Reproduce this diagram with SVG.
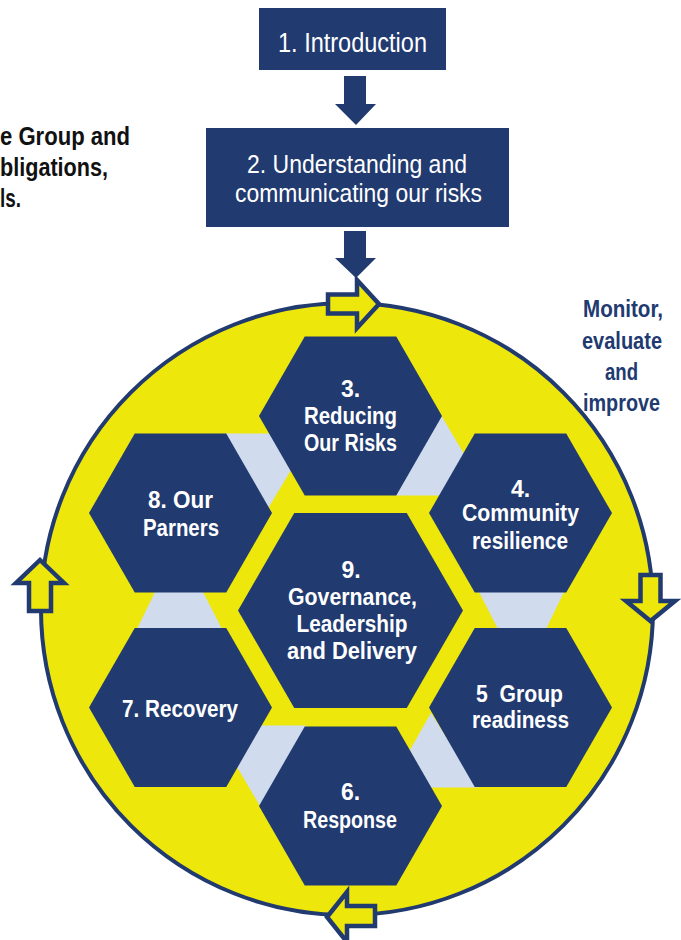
<svg xmlns="http://www.w3.org/2000/svg" width="681" height="940" viewBox="0 0 681 940">
<style>
.box{fill:#213A70}
.hex{fill:#213A70}
.band{fill:#D0DCEE}
.bt{font-family:"Liberation Sans",Arial,sans-serif;fill:#FFFFFF;text-anchor:middle}
.ht{font-family:"Liberation Sans",Arial,sans-serif;font-weight:bold;font-size:23px;fill:#FFFFFF;text-anchor:middle}
.mt{font-family:"Liberation Sans",Arial,sans-serif;font-weight:bold;font-size:23px;fill:#213A70;text-anchor:middle}
.lt{font-family:"Liberation Sans",Arial,sans-serif;font-weight:bold;font-size:25px;fill:#111111}
.down{fill:#213A70}
.carrow{fill:#EDE70C;stroke:#213A70;stroke-width:4.5;stroke-linejoin:miter}
</style>
<rect width="681" height="940" fill="#FFFFFF"/>

<g id="side-text">
<text class="lt" x="0" y="145" textLength="130" lengthAdjust="spacingAndGlyphs">e Group and</text>
<text class="lt" x="0" y="176" textLength="108" lengthAdjust="spacingAndGlyphs">bligations,</text>
<text class="lt" x="0" y="207" textLength="21" lengthAdjust="spacingAndGlyphs">ls.</text>
</g>

<g id="node-1">
<rect class="box" x="259" y="8" width="187" height="62"/>
<text class="bt" x="352.5" y="52" font-size="27" textLength="149" lengthAdjust="spacingAndGlyphs">1. Introduction</text>
</g>

<g id="node-2">
<rect class="box" x="206" y="128" width="303" height="99"/>
<text class="bt" x="357" y="173" font-size="25" textLength="220" lengthAdjust="spacingAndGlyphs">2. Understanding and</text>
<text class="bt" x="358.5" y="202" font-size="25" textLength="247" lengthAdjust="spacingAndGlyphs">communicating our risks</text>
</g>

<g id="cycle">
<circle cx="347" cy="609" r="306" fill="#EDE70C" stroke="#213A70" stroke-width="4"/>
</g>

<g id="bands">
<polygon class="band" points="223,433.5 273,433.5 291,470 268,508.5"/>
<polygon class="band" points="441,415 464,454 442,495.5 395,495.5"/>
<polygon class="band" points="478,787.5 428,787.5 410,750 431,713"/>
<polygon class="band" points="260,806 237,767 259,725.5 306,725.5"/>
<polygon class="band" points="155,592 203,592 222,629 137,629"/>
<polygon class="band" points="546,629 498,629 479,592 564,592"/>
</g>

<g id="node-3">
<polygon class="hex" points="259,416 304.75,336.5 396.25,336.5 442,416 396.25,495.5 304.75,495.5"/>
<text class="ht" x="350.5" y="397">3.</text>
<text class="ht" x="350.5" y="424" textLength="93" lengthAdjust="spacingAndGlyphs">Reducing</text>
<text class="ht" x="350.5" y="451" textLength="93" lengthAdjust="spacingAndGlyphs">Our Risks</text>
</g>

<g id="node-4">
<polygon class="hex" points="429,513 474.75,433.5 566.25,433.5 612,513 566.25,592.5 474.75,592.5"/>
<text class="ht" x="520.5" y="497">4.</text>
<text class="ht" x="520.5" y="521" textLength="117" lengthAdjust="spacingAndGlyphs">Community</text>
<text class="ht" x="520" y="549" textLength="96" lengthAdjust="spacingAndGlyphs">resilience</text>
</g>

<g id="node-5">
<polygon class="hex" points="429,707.5 474.75,628 566.25,628 612,707.5 566.25,787 474.75,787"/>
<text class="ht" x="519.5" y="702" textLength="87" lengthAdjust="spacingAndGlyphs" xml:space="preserve">5  Group</text>
<text class="ht" x="520.5" y="728" textLength="97" lengthAdjust="spacingAndGlyphs">readiness</text>
</g>

<g id="node-6">
<polygon class="hex" points="259,806 304.75,726.5 396.25,726.5 442,806 396.25,885.5 304.75,885.5"/>
<text class="ht" x="350.5" y="800">6.</text>
<text class="ht" x="350" y="828" textLength="94" lengthAdjust="spacingAndGlyphs">Response</text>
</g>

<g id="node-7">
<polygon class="hex" points="89,707.5 134.75,628 226.25,628 272,707.5 226.25,787 134.75,787"/>
<text class="ht" x="180" y="717" textLength="116" lengthAdjust="spacingAndGlyphs">7. Recovery</text>
</g>

<g id="node-8">
<polygon class="hex" points="89,513 134.75,433.5 226.25,433.5 272,513 226.25,592.5 134.75,592.5"/>
<text class="ht" x="180.5" y="508" textLength="65" lengthAdjust="spacingAndGlyphs">8. Our</text>
<text class="ht" x="181" y="536" textLength="76" lengthAdjust="spacingAndGlyphs">Parners</text>
</g>

<g id="node-9">
<polygon class="hex" points="238,610.5 294.25,513 406.75,513 463,610.5 406.75,708 294.25,708"/>
<text class="ht" x="351" y="578">9.</text>
<text class="ht" x="352.5" y="605" textLength="129" lengthAdjust="spacingAndGlyphs">Governance,</text>
<text class="ht" x="352" y="632" textLength="111" lengthAdjust="spacingAndGlyphs">Leadership</text>
<text class="ht" x="352" y="659" textLength="130" lengthAdjust="spacingAndGlyphs">and Delivery</text>
</g>

<g id="cycle-label">
<text class="mt" x="623" y="317" textLength="80" lengthAdjust="spacingAndGlyphs">Monitor,</text>
<text class="mt" x="622" y="349" textLength="80" lengthAdjust="spacingAndGlyphs">evaluate</text>
<text class="mt" x="621.5" y="380" textLength="33" lengthAdjust="spacingAndGlyphs">and</text>
<text class="mt" x="621.5" y="411" textLength="77" lengthAdjust="spacingAndGlyphs">improve</text>
</g>

<g id="connectors">
<polygon class="down" points="344,76 366,76 366,104 376,104 356,125 335,104 344,104"/>
<polygon class="down" points="344,231 366,231 366,258 376,258 356,278 335,258 344,258"/>
<path class="carrow" d="M328,294.5 H357 V280 L379,304 L357,328 V313.5 H328 Z"/>
<path class="carrow" d="M640.5,575 H660.5 V601 H675 L650.5,621 L626,601 H640.5 Z"/>
<path class="carrow" d="M375,906 H347 V892 L327,917 L347,942 V926 H375 Z"/>
<path class="carrow" d="M29,611 V583 H16 L40,560 L64,583 H51 V611 Z"/>
</g>
</svg>
